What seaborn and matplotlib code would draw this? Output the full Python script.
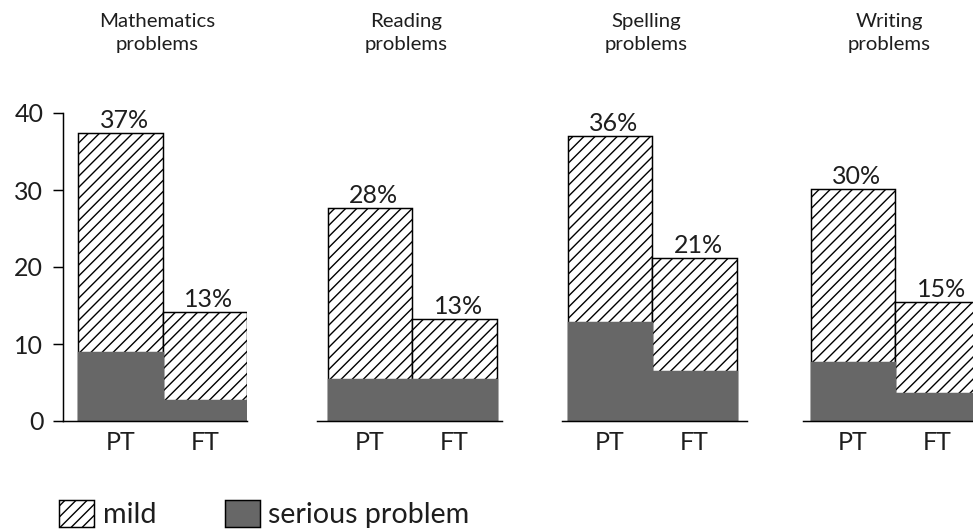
import matplotlib
matplotlib.use("Agg")
import matplotlib.pyplot as plt
import seaborn as sns
import pandas as pd
from matplotlib.patches import Patch

# data (percent)
subjects = ["Mathematics\nproblems", "Reading\nproblems", "Spelling\nproblems", "Writing\nproblems"]
groups = ["PT", "FT"]
total_pt = [37.4, 27.7, 37.0, 30.1]
total_ft = [14.2, 13.2, 21.2, 15.4]
serious_pt = [8.9, 5.5, 12.9, 7.6]
serious_ft = [2.7, 5.5, 6.5, 3.7]
labels_pt = ["37%", "28%", "36%", "30%"]
labels_ft = ["13%", "13%", "21%", "15%"]
yticks = [0, 10, 20, 30, 40]

GRAY = "#676767"
TXT = "#1e1e1e"

sns.set_style("white")
plt.rcParams["font.family"] = ["Lato", "DejaVu Sans"]
plt.rcParams["font.weight"] = "normal"
plt.rcParams["hatch.linewidth"] = 0.75

DPI = 133
W, H = 973, 531
fig = plt.figure(figsize=(W / DPI, H / DPI), dpi=DPI)

# panel layout in pixels
BW = 84.5
bar_left = [78.3, 327.7, 567.7, 810.7]
pad_l = [15.0, 10.7, 6.0, 7.4]
pad_r = [0.0, 5.0, 10.0, 10.0]
y0, y40 = 421.0, 113.0

for i in range(4):
    ax_l = bar_left[i] - pad_l[i]
    ax_w = pad_l[i] + 2 * BW + pad_r[i]
    ax = fig.add_axes([ax_l / W, (H - y0) / H, ax_w / W, (y0 - y40) / H])

    df = pd.DataFrame({
        "group": groups,
        "total": [total_pt[i], total_ft[i]],
        "serious": [serious_pt[i], serious_ft[i]],
    })
    sns.barplot(data=df, x="group", y="total", color="white", saturation=1, width=1,
                edgecolor="black", linewidth=0.8, hatch="////", errorbar=None, ax=ax)
    sns.barplot(data=df, x="group", y="serious", color=GRAY, saturation=1, width=1,
                edgecolor=GRAY, linewidth=0.8, errorbar=None, ax=ax)

    for j, (val, lab) in enumerate(zip(df["total"], [labels_pt[i], labels_ft[i]])):
        ax.annotate(lab, (j, val), xytext=(2, 2.7), textcoords="offset points",
                    ha="center", va="baseline", fontsize=13.5, color=TXT)

    ax.set_xlim(-0.5 - pad_l[i] / BW, 1.5 + pad_r[i] / BW)
    ax.set_ylim(0, 40)
    ax.set_xlabel("")
    ax.set_ylabel("")
    ax.tick_params(axis="x", length=0, pad=5.4, labelsize=13.5, labelcolor=TXT)

    sns.despine(ax=ax, left=(i > 0))
    ax.spines["bottom"].set_color("black")
    ax.spines["bottom"].set_linewidth(0.8)
    if i == 0:
        ax.set_yticks(yticks)
        ax.spines["left"].set_color("black")
        ax.spines["left"].set_linewidth(0.8)
        ax.tick_params(axis="y", left=True, length=5.4, width=0.8, pad=5.4,
                       labelsize=13.5, labelcolor=TXT, color="black")
    else:
        ax.set_yticks([])

    # panel heading
    cx = bar_left[i] + BW - 6
    fig.text(cx / W, 1 - 13 / H, subjects[i], ha="center", va="top",
             fontsize=11, color=TXT, linespacing=1.45)

handles = [
    Patch(facecolor="white", edgecolor="black", hatch="////", linewidth=0.8, label="mild"),
    Patch(facecolor=GRAY, edgecolor="black", linewidth=0.8, label="serious problem"),
]
leg = fig.legend(handles=handles, loc="lower left", bbox_to_anchor=(59 / W, 3 / H),
                 ncol=2, frameon=False, fontsize=15.5, handlelength=1.22, handleheight=1.05,
                 handletextpad=0.3, columnspacing=2.4, borderpad=0, borderaxespad=0)
for t in leg.get_texts():
    t.set_color(TXT)

fig.savefig("out.png", dpi=DPI)
